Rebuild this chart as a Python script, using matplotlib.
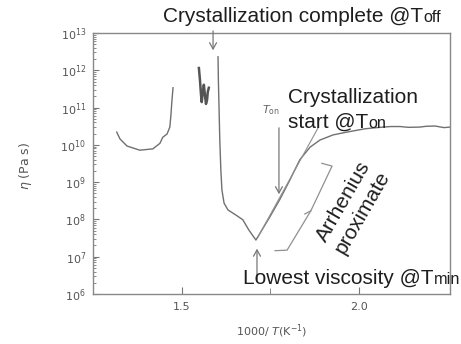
import numpy as np
import matplotlib
matplotlib.use('Agg')
import matplotlib.pyplot as plt
from matplotlib.ticker import FixedLocator, NullFormatter, LogFormatterSciNotation

# ---- data (x = 1000/T in 1/K, eta in Pa s) ----
low_x = [1.316, 1.325, 1.345, 1.381, 1.418, 1.438, 1.446, 1.458, 1.466, 1.469, 1.472, 1.475]
low_eta = [2.2e10, 1.45e10, 9.3e9, 7.2e9, 7.8e9, 1.1e10, 1.6e10, 1.95e10, 3.0e10, 6.3e10, 1.6e11, 3.4e11]

blob_x = [1.548, 1.551, 1.554, 1.556, 1.559, 1.562, 1.565, 1.568, 1.571, 1.573, 1.576]
blob_eta = [1.15e12, 5.5e11, 2.2e11, 1.4e11, 2.6e11, 4.1e11, 2.2e11, 1.25e11, 1.6e11, 2.6e11, 3.4e11]

main_x = [1.602, 1.603, 1.605, 1.607, 1.610, 1.613, 1.619, 1.630, 1.653, 1.672, 1.689, 1.709,
          1.726, 1.749, 1.777, 1.805, 1.833, 1.862, 1.890, 1.927, 1.966, 2.017, 2.068, 2.09,
          2.116, 2.14, 2.172, 2.19, 2.215, 2.24, 2.257]
main_eta = [2.3e12, 5.5e11, 8.7e10, 1.35e10, 2.1e9, 6.2e8, 2.75e8, 1.8e8, 1.3e8, 9.8e7, 5.2e7, 2.8e7,
            5.2e7, 1.2e8, 3.5e8, 1.15e9, 4.0e9, 8.7e9, 1.35e10, 1.85e10, 2.2e10, 2.7e10, 3.0e10, 3.1e10,
            3.1e10, 2.95e10, 3.0e10, 3.15e10, 3.2e10, 2.9e10, 3.0e10]

fit_x = [1.715, 1.884]
fit_eta = [3.4e7, 2.8e10]

y_decades = [1e6, 1e7, 1e8, 1e9, 1e10, 1e11, 1e12, 1e13]
x_ticks = [1.5, 2.0]
x_tick_labels = ['1.5', '2.0']

# annotation geometry (data coords)
brace_x = [1.763, 1.797, 1.864, 1.924, 1.895]
brace_eta = [1.45e7, 1.5e7, 1.7e8, 2.7e9, 3.2e9]

W, H = 461, 344
grey = '#707070'
ink = '#1e1e1e'

fig = plt.figure(figsize=(W / 100, H / 100), dpi=100)
ax = fig.add_axes([93 / W, 1 - 294 / H, 357 / W, 261 / H])

ax.plot(low_x, low_eta, color=grey, lw=1.0)
ax.plot(blob_x, blob_eta, color='#555555', lw=1.8)
ax.plot(main_x, main_eta, color=grey, lw=1.0)
ax.plot(fit_x, fit_eta, color='#909090', lw=0.8)
ax.plot(brace_x, brace_eta, color='#909090', lw=0.9)
ax.plot([1.864, 1.847], [1.7e8, 1.4e8], color='#909090', lw=0.9)

ax.set_yscale('log')
ax.set_xlim(1.249, 2.257)
ax.set_ylim(1e6, 1e13)

minor_y = [d * k for d in y_decades[:-1] for k in range(2, 10)]
ax.yaxis.set_major_locator(FixedLocator(y_decades))
ax.yaxis.set_major_formatter(LogFormatterSciNotation())
ax.yaxis.set_minor_locator(FixedLocator(minor_y))
ax.yaxis.set_minor_formatter(NullFormatter())
ax.xaxis.set_major_locator(FixedLocator(x_ticks))
ax.xaxis.set_minor_locator(FixedLocator([1.75]))
ax.xaxis.set_minor_formatter(NullFormatter())
ax.set_xticklabels(x_tick_labels)

ax.tick_params(which='both', direction='in', colors='#777777', labelcolor='#555555', labelsize=8)
ax.tick_params(axis='x', which='major', length=5, pad=6)
ax.tick_params(axis='x', which='minor', length=4)
ax.tick_params(axis='y', which='major', length=4, pad=5)
ax.tick_params(axis='y', which='minor', length=2)
for s in ax.spines.values():
    s.set_color('#888888')
    s.set_linewidth(1.0)

ax.set_xlabel(r'1000/ $T$(K$^{-1}$)', fontsize=8, color='#555555', labelpad=7)
ax.set_ylabel(r'$\eta$ (Pa s)', fontsize=9, color='#555555')
ax.yaxis.set_label_coords(-0.165, 0.49)

arrow = dict(arrowstyle='->,head_length=0.45,head_width=0.25', color='#777777', lw=0.9)
ax.annotate('', xy=(1.588, 2.9e12), xytext=(1.588, 1.35e13), arrowprops=arrow, annotation_clip=False)
ax.annotate('', xy=(1.774, 4e8), xytext=(1.774, 3.4e10), arrowprops=arrow)
ax.annotate('', xy=(1.712, 1.95e7), xytext=(1.712, 2e6), arrowprops=arrow)


def label(px, py, main, small, size=15):
    t = fig.text(px / W, 1 - py / H, main, fontsize=size, color=ink,
                 family='Liberation Sans', va='baseline', ha='left')
    if small:
        fig.canvas.draw()
        ext = t.get_window_extent()
        fig.text(ext.x1 / W, 1 - py / H, small, fontsize=size * 0.78, color=ink,
                 family='Liberation Sans', va='baseline', ha='left')


label(163, 22, 'Crystallization complete @T', 'off')
label(288, 103, 'Crystallization', None)
label(288, 128, 'start @T', 'on')
label(243, 284, 'Lowest viscosity @T', 'min')

fig.text(262 / W, 1 - 113 / H, r'$T_{\rm on}$', fontsize=8, color='#666666', va='baseline')

fig.text(353 / W, 1 - 207 / H, 'Arrhenius\nproximate', fontsize=15, color=ink,
         family='Liberation Sans', rotation=60, rotation_mode='anchor',
         ha='center', va='center', multialignment='center', linespacing=1.2)

fig.savefig('out.png', dpi=100)
